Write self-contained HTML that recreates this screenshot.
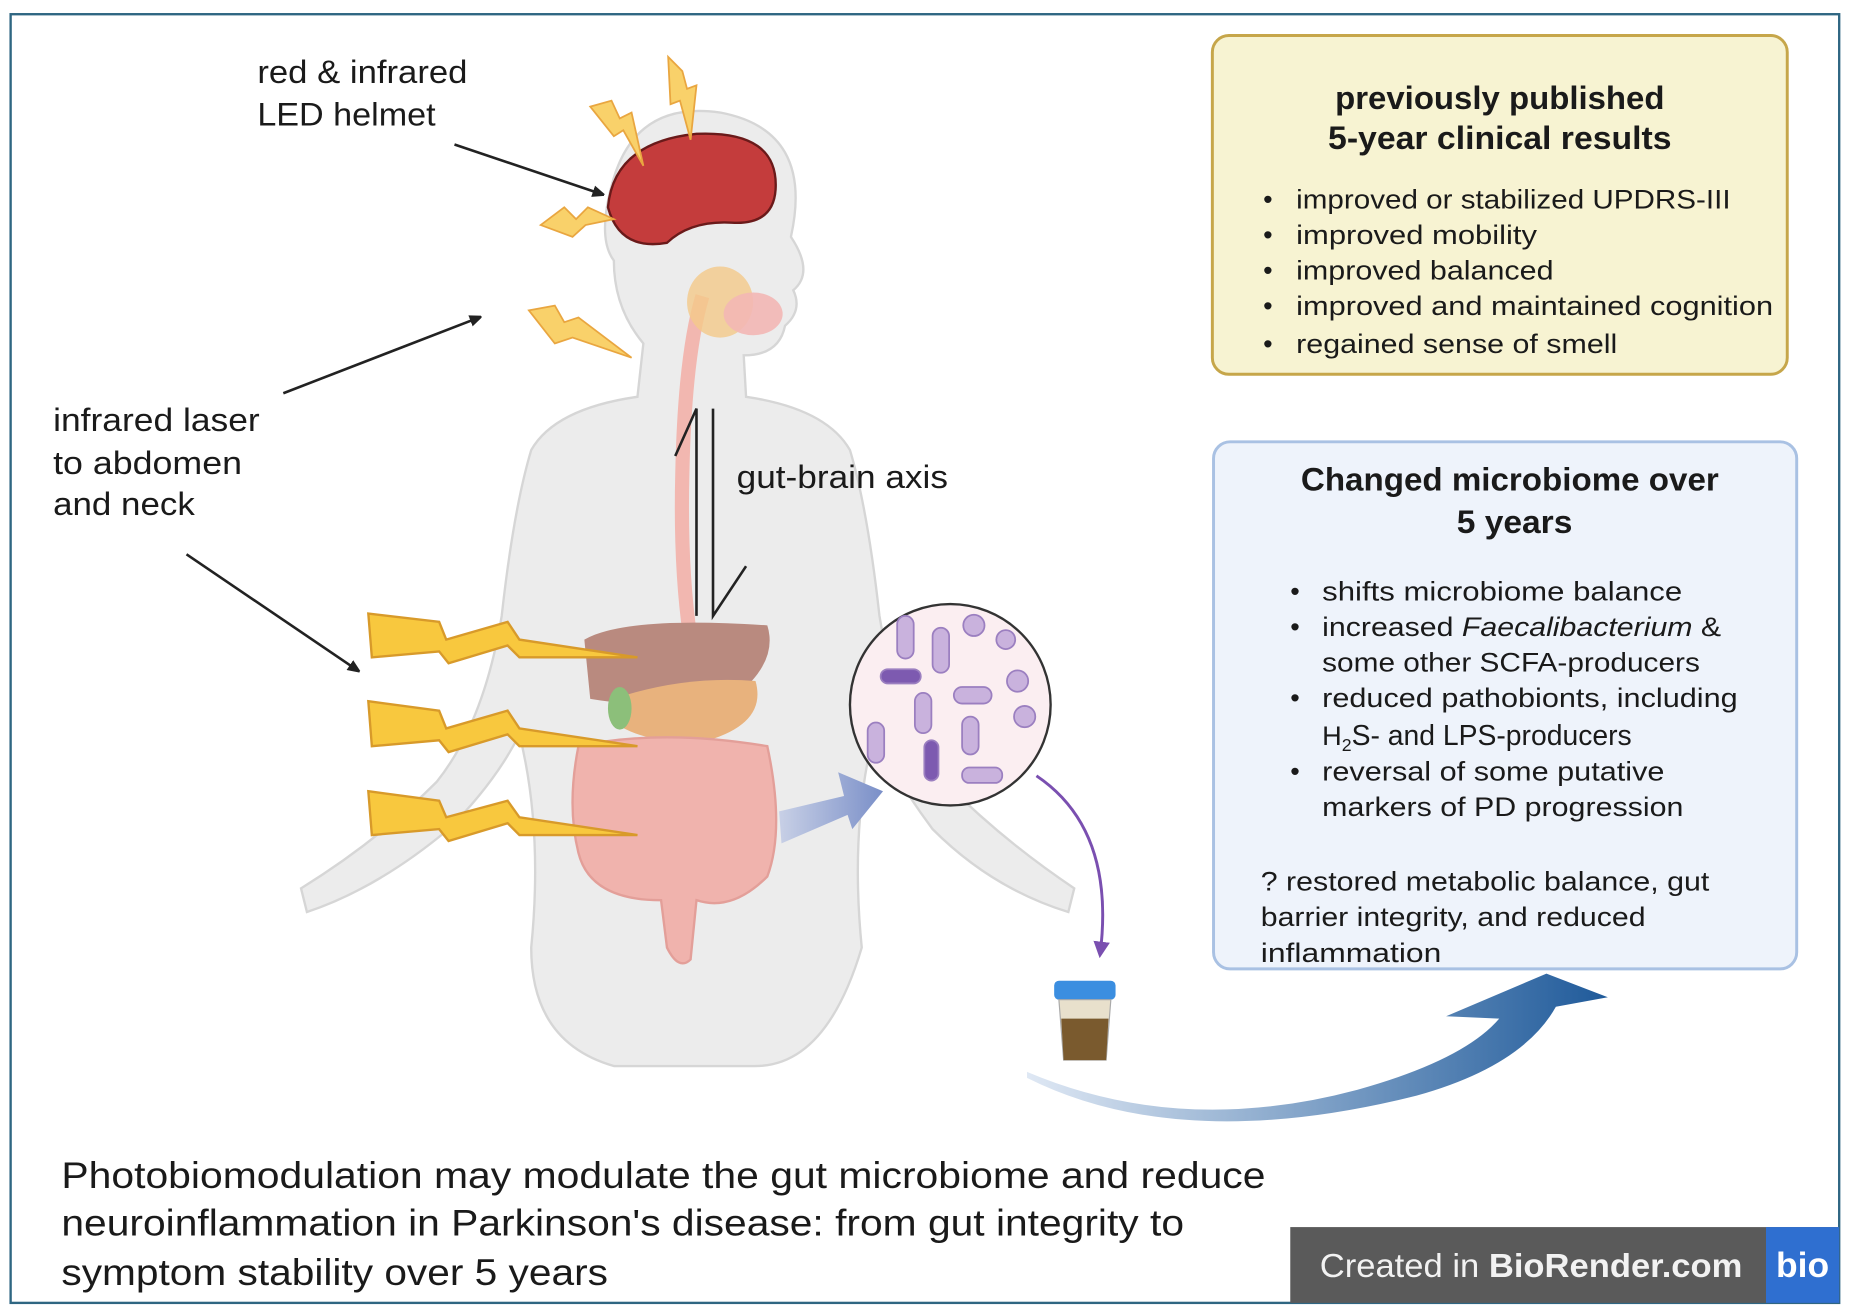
<!DOCTYPE html>
<html><head><meta charset="utf-8"><style>
html,body{margin:0;padding:0;background:#fff;}
svg{display:block;}
text{font-family:"Liberation Sans",sans-serif;fill:#1a1a1a;}
</style></head><body>
<svg width="1851" height="1310" viewBox="0 0 1568 1106" preserveAspectRatio="none" xmlns="http://www.w3.org/2000/svg">
<defs>
<marker id="ah" markerWidth="10" markerHeight="10" refX="8" refY="5" orient="auto" markerUnits="userSpaceOnUse"><path d="M0,0 L12,5 L0,10 z" fill="#222"/></marker>
<marker id="ap" markerWidth="14" markerHeight="14" refX="10" refY="7" orient="auto" markerUnits="userSpaceOnUse"><path d="M0,0 L14,7 L0,14 z" fill="#7a4fb0"/></marker>
<linearGradient id="bg1" x1="0" y1="0" x2="1" y2="0"><stop offset="0" stop-color="#dfe8f4"/><stop offset="1" stop-color="#1f5a9a"/></linearGradient>
<linearGradient id="bg2" x1="0" y1="0" x2="1" y2="0"><stop offset="0" stop-color="#c8d0e6"/><stop offset="1" stop-color="#7a8fc8"/></linearGradient>
</defs>
<rect x="0" y="0" width="1568" height="1106" fill="#fff"/>
<rect x="9" y="12" width="1549" height="1088" fill="none" stroke="#2f6682" stroke-width="2"/>

<g fill="#ececec" stroke="#d6d6d6" stroke-width="2">
<path d="M520,150 Q540,85 610,95 Q690,110 670,200 Q690,230 672,245 Q680,262 665,275 Q660,300 630,300 L632,335 Q700,345 720,380 Q735,430 745,520 Q760,610 800,660 Q850,710 910,750 L905,770 Q840,750 790,700 Q760,660 740,620 Q720,700 730,800 Q700,900 640,900 L520,900 Q450,880 450,800 Q460,700 440,620 Q420,660 380,700 Q320,750 260,770 L255,750 Q320,710 370,660 Q410,610 425,520 Q435,430 450,380 Q470,345 540,335 L545,290 Q520,260 520,220 Q505,200 520,150 z"/>
</g>
<path d="M595,250 Q580,300 578,400 Q576,480 585,540" fill="none" stroke="#f2b7b0" stroke-width="12"/>
<ellipse cx="610" cy="255" rx="28" ry="30" fill="#f4c98a" opacity="0.8"/>
<ellipse cx="638" cy="265" rx="25" ry="18" fill="#f3b7b5" opacity="0.9"/>
<path d="M495,540 Q530,520 650,528 Q660,560 620,590 Q560,600 500,590 z" fill="#b98a7f"/>
<path d="M520,590 Q580,570 640,575 Q650,610 600,625 Q550,630 520,610 z" fill="#e8b27d"/>
<ellipse cx="525" cy="598" rx="10" ry="18" fill="#8cbf7a"/>
<path d="M490,630 Q560,615 650,630 Q665,700 650,740 Q620,770 590,760 L585,810 Q575,820 565,800 L560,760 Q500,760 490,720 Q480,680 490,630 z" fill="#f0b3ad" stroke="#e39f99" stroke-width="2"/>
<path d="M515,175 Q520,120 590,113 Q660,110 657,160 Q655,190 620,188 Q585,186 565,205 Q525,212 515,175 z" fill="#c43c3c" stroke="#6a1a1a" stroke-width="2"/>
<g fill="#f9d16a" stroke="#e9a640" stroke-width="1.5">
<path d="M500,90 L518,85 L525,100 L535,95 L545,140 L528,110 L520,115 z"/>
<path d="M566,48 L578,60 L582,75 L590,72 L585,118 L576,85 L568,88 z"/>
<path d="M458,190 L478,175 L488,185 L498,175 L520,185 L496,190 L485,200 z"/>
<path d="M448,262 L470,258 L478,272 L490,268 L535,302 L485,285 L470,290 z"/>
</g>
<g fill="#f8c83e" stroke="#d89a2a" stroke-width="2">
<path d="M312,518 L372,525 L378,540 L430,525 L440,540 L540,555 L440,555 L430,545 L380,560 L372,550 L315,555 z"/>
<path d="M312,592 L372,600 L378,615 L430,600 L440,615 L540,630 L440,630 L430,620 L380,635 L372,625 L315,630 z"/>
<path d="M312,668 L372,676 L378,690 L430,676 L440,690 L540,705 L440,705 L430,695 L380,710 L372,700 L315,705 z"/>
</g>
<g stroke="#222" stroke-width="2.2" fill="none">
<line x1="385" y1="122" x2="510" y2="164" marker-end="url(#ah)"/>
<line x1="240" y1="332" x2="406" y2="268" marker-end="url(#ah)"/>
<line x1="158" y1="468" x2="303" y2="566" marker-end="url(#ah)"/>
<path d="M590,520 L590,345 L572,385"/>
<path d="M604,345 L604,520 L632,478"/>
</g>
<path d="M660,685 L715,672 L710,652 L748,668 L722,700 L718,688 L662,712 z" fill="url(#bg2)"/>
<circle cx="805" cy="595" r="85" fill="#fbeef1" stroke="#333" stroke-width="2"/>
<g fill="#c9b2dd" stroke="#9b7fc0" stroke-width="1.5">
<rect x="760" y="520" width="14" height="36" rx="7"/>
<rect x="790" y="530" width="14" height="38" rx="7"/>
<circle cx="825" cy="528" r="9"/><circle cx="852" cy="540" r="8"/>
<rect x="746" y="565" width="34" height="12" rx="6" fill="#7d5ab0"/>
<rect x="775" y="585" width="14" height="34" rx="7"/>
<rect x="808" y="580" width="32" height="14" rx="7"/>
<circle cx="862" cy="575" r="9"/><circle cx="868" cy="605" r="9"/>
<rect x="735" y="610" width="14" height="34" rx="7"/>
<rect x="783" y="625" width="12" height="34" rx="6" fill="#7d5ab0"/>
<rect x="815" y="605" width="14" height="32" rx="7"/>
<rect x="815" y="648" width="34" height="13" rx="6"/>
</g>
<path d="M878,655 Q945,700 932,805" fill="none" stroke="#7a4fb0" stroke-width="2.5" marker-end="url(#ap)"/>
<rect x="893" y="828" width="52" height="16" rx="4" fill="#3b8ee0"/>
<path d="M897,844 L941,844 L937,895 L901,895 z" fill="#e8e0cc" stroke="#aaa"/>
<path d="M899,860 L939,860 L937,895 L901,895 z" fill="#7a5a2e"/>
<path d="M870,905 Q1000,960 1150,920 Q1240,895 1270,860 L1225,858 L1310,822 L1362,842 L1318,850 Q1290,900 1200,925 Q1000,975 870,910 z" fill="url(#bg1)"/>

<g font-size="27">
<text x="218" y="70" textLength="178" lengthAdjust="spacingAndGlyphs">red &amp; infrared</text>
<text x="218" y="106" textLength="151" lengthAdjust="spacingAndGlyphs">LED helmet</text>
<text x="45" y="364" textLength="175" lengthAdjust="spacingAndGlyphs">infrared laser</text>
<text x="45" y="400" textLength="160" lengthAdjust="spacingAndGlyphs">to abdomen</text>
<text x="45" y="435" textLength="120" lengthAdjust="spacingAndGlyphs">and neck</text>
<text x="624" y="412" textLength="179" lengthAdjust="spacingAndGlyphs">gut-brain axis</text>
</g>

<rect x="1027" y="30" width="487" height="286" rx="14" fill="#f7f3d2" stroke="#c6a64a" stroke-width="2.5"/>
<g font-size="27" font-weight="bold">
<text x="1131" y="92" textLength="279" lengthAdjust="spacingAndGlyphs">previously published</text>
<text x="1125" y="126" textLength="291" lengthAdjust="spacingAndGlyphs">5-year clinical results</text>
</g>
<g font-size="23">
<text x="1070" y="176">•</text><text x="1098" y="176" textLength="368" lengthAdjust="spacingAndGlyphs">improved or stabilized UPDRS-III</text>
<text x="1070" y="206">•</text><text x="1098" y="206" textLength="204" lengthAdjust="spacingAndGlyphs">improved mobility</text>
<text x="1070" y="236">•</text><text x="1098" y="236" textLength="218" lengthAdjust="spacingAndGlyphs">improved balanced</text>
<text x="1070" y="266">•</text><text x="1098" y="266" textLength="404" lengthAdjust="spacingAndGlyphs">improved and maintained cognition</text>
<text x="1070" y="298">•</text><text x="1098" y="298" textLength="272" lengthAdjust="spacingAndGlyphs">regained sense of smell</text>
</g>

<rect x="1028" y="373" width="494" height="445" rx="14" fill="#eef3fb" stroke="#a9c1e3" stroke-width="2.5"/>
<g font-size="27" font-weight="bold">
<text x="1102" y="414" textLength="354" lengthAdjust="spacingAndGlyphs">Changed microbiome over</text>
<text x="1234" y="450" textLength="98" lengthAdjust="spacingAndGlyphs">5 years</text>
</g>
<g font-size="23">
<text x="1093" y="507">•</text><text x="1120" y="507" textLength="305" lengthAdjust="spacingAndGlyphs">shifts microbiome balance</text>
<text x="1093" y="537">•</text><text x="1120" y="537" textLength="338" lengthAdjust="spacingAndGlyphs">increased <tspan font-style="italic">Faecalibacterium</tspan> &amp;</text>
<text x="1120" y="567" textLength="320" lengthAdjust="spacingAndGlyphs">some other SCFA-producers</text>
<text x="1093" y="597">•</text><text x="1120" y="597" textLength="352" lengthAdjust="spacingAndGlyphs">reduced pathobionts, including</text>
<text x="1120" y="629">H<tspan font-size="15" dy="5">2</tspan><tspan dy="-5" font-size="24">S- and LPS-producers</tspan></text>
<text x="1093" y="659">•</text><text x="1120" y="659" textLength="290" lengthAdjust="spacingAndGlyphs">reversal of some putative</text>
<text x="1120" y="689" textLength="306" lengthAdjust="spacingAndGlyphs">markers of PD progression</text>
<text x="1068" y="752" textLength="380" lengthAdjust="spacingAndGlyphs">? restored metabolic balance, gut</text>
<text x="1068" y="782" textLength="326" lengthAdjust="spacingAndGlyphs">barrier integrity, and reduced</text>
<text x="1068" y="812" textLength="153" lengthAdjust="spacingAndGlyphs">inflammation</text>
</g>

<g font-size="31">
<text x="52" y="1003" textLength="1020" lengthAdjust="spacingAndGlyphs">Photobiomodulation may modulate the gut microbiome and reduce</text>
<text x="52" y="1043" textLength="951" lengthAdjust="spacingAndGlyphs">neuroinflammation in Parkinson's disease: from gut integrity to</text>
<text x="52" y="1085" textLength="463" lengthAdjust="spacingAndGlyphs">symptom stability over 5 years</text>
</g>

<rect x="1093" y="1036" width="465" height="64" fill="#5a5a5a"/>
<rect x="1496" y="1036" width="62" height="64" fill="#2f6fd0"/>
<text x="1118" y="1078" font-size="28" textLength="358" lengthAdjust="spacingAndGlyphs" style="fill:#f2f2f2">Created in <tspan font-weight="bold">BioRender.com</tspan></text>
<text x="1527" y="1078" font-size="30" font-weight="bold" text-anchor="middle" style="fill:#fff">bio</text>
</svg>
</body></html>
